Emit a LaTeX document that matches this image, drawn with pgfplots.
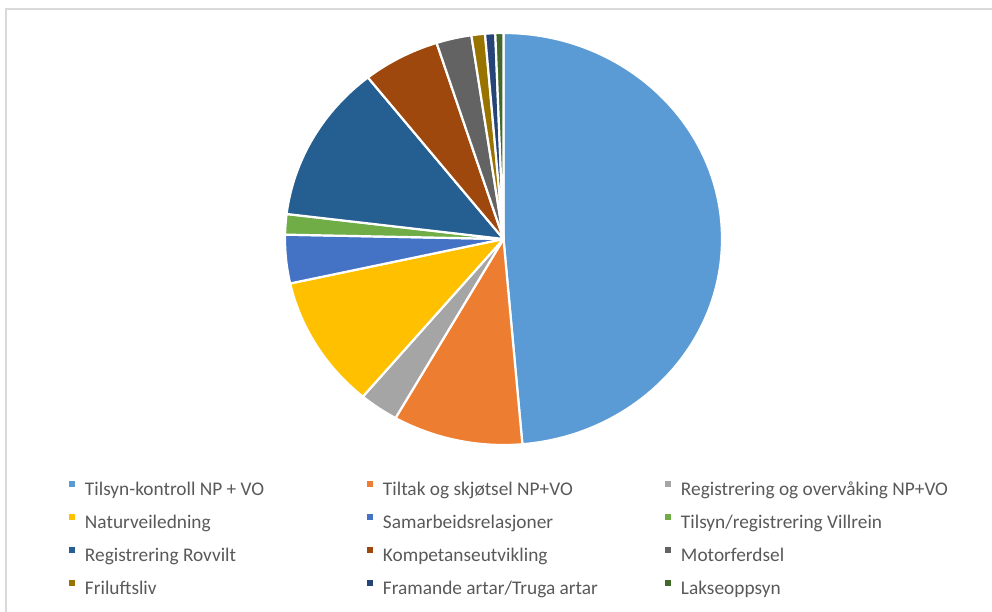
\documentclass[border=0pt]{standalone}
\usepackage{pgfplots}
\pgfplotsset{compat=1.18}
\usepackage{pgfplotstable}
\usepackage{fontspec}
\setmainfont{Carlito}

\definecolor{pie0}{HTML}{5B9BD5}
\definecolor{pie1}{HTML}{ED7D31}
\definecolor{pie2}{HTML}{A5A5A5}
\definecolor{pie3}{HTML}{FFC000}
\definecolor{pie4}{HTML}{4472C4}
\definecolor{pie5}{HTML}{70AD47}
\definecolor{pie6}{HTML}{255E91}
\definecolor{pie7}{HTML}{9E480E}
\definecolor{pie8}{HTML}{636363}
\definecolor{pie9}{HTML}{997300}
\definecolor{pie10}{HTML}{264478}
\definecolor{pie11}{HTML}{43682B}
\definecolor{legtext}{HTML}{595959}
\definecolor{frame}{HTML}{D9D9D9}

% andel i prosent, med klokka fra toppen
\pgfplotstableread{
value
48.6
9.6
2.9
10.4
3.8
1.6
12.4
5.7
2.6
1.0
0.75
0.6
}\piedata

\begin{document}
\begin{tikzpicture}
% summer og vinklar
\def\pietotal{0}
\pgfplotsforeachungrouped \i in {0,...,11}{%
  \pgfplotstablegetelem{\i}{value}\of\piedata
  \pgfmathsetmacro\pietotal{\pietotal+\pgfplotsretval}%
}
\def\piecum{0}
\pgfplotsforeachungrouped \i in {0,...,11}{%
  \pgfplotstablegetelem{\i}{value}\of\piedata
  \pgfmathsetmacro\pieA{90-(\piecum/\pietotal)*360}%
  \pgfmathsetmacro\piecum{\piecum+\pgfplotsretval}%
  \pgfmathsetmacro\pieB{90-(\piecum/\pietotal)*360}%
  \expandafter\xdef\csname pieS\i\endcsname{\pieA}%
  \expandafter\xdef\csname pieE\i\endcsname{\pieB}%
}

\path[use as bounding box] (0,0) rectangle (992bp,612bp);
\draw[color=frame, line width=1.2bp] (6bp,0) -- (6bp,603bp) -- (992bp,603bp);

\begin{axis}[
    at={(503.5bp,373bp)}, anchor=center,
    scale only axis, width=437bp, height=412bp,
    xmin=-1, xmax=1, ymin=-1, ymax=1,
    hide axis, clip=false,
    legend columns=3,
    legend cell align=left,
    legend image code/.code={\fill[#1, draw=none] (0bp,3.7bp) rectangle (6bp,9.7bp);},
    legend style={at={(-0.4943,-0.0867)}, anchor=north west,
        draw=none, fill=none, inner sep=0pt, outer sep=0pt,
        column sep=10bp, row sep=13bp,
        font=\fontsize{19.4}{23}\selectfont, text=legtext,
        nodes={inner sep=0pt, text height=15bp, text depth=5bp}},
]
\pgfplotsinvokeforeach{0,...,11}{
  \fill[pie#1, draw=white, line width=2.2bp, line join=round]
    (axis cs:0,0) -- (axis cs:{cos(\csname pieS#1\endcsname)},{sin(\csname pieS#1\endcsname)})
    arc[start angle=\csname pieS#1\endcsname, end angle=\csname pieE#1\endcsname, radius=1] -- cycle;
}
\addlegendimage{fill=pie0}  \addlegendentry{\makebox[272bp][l]{Tilsyn-kontroll NP + VO}}
\addlegendimage{fill=pie1}  \addlegendentry{\makebox[272bp][l]{Tiltak og skjøtsel NP+VO}}
\addlegendimage{fill=pie2}  \addlegendentry{\makebox[272bp][l]{Registrering og overvåking NP+VO}}
\addlegendimage{fill=pie3}  \addlegendentry{\makebox[272bp][l]{Naturveiledning}}
\addlegendimage{fill=pie4}  \addlegendentry{\makebox[272bp][l]{Samarbeidsrelasjoner}}
\addlegendimage{fill=pie5}  \addlegendentry{\makebox[272bp][l]{Tilsyn/registrering Villrein}}
\addlegendimage{fill=pie6}  \addlegendentry{\makebox[272bp][l]{Registrering Rovvilt}}
\addlegendimage{fill=pie7}  \addlegendentry{\makebox[272bp][l]{Kompetanseutvikling}}
\addlegendimage{fill=pie8}  \addlegendentry{\makebox[272bp][l]{Motorferdsel}}
\addlegendimage{fill=pie9}  \addlegendentry{\makebox[272bp][l]{Friluftsliv}}
\addlegendimage{fill=pie10} \addlegendentry{\makebox[272bp][l]{Framande artar/Truga artar}}
\addlegendimage{fill=pie11} \addlegendentry{\makebox[272bp][l]{Lakseoppsyn}}
\end{axis}
\end{tikzpicture}
\end{document}
